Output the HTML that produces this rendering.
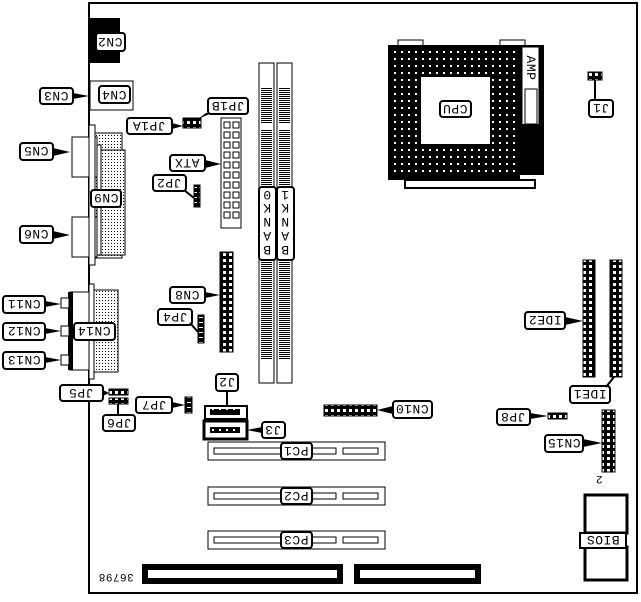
<!DOCTYPE html>
<html><head><meta charset="utf-8"><style>
html,body{margin:0;padding:0;background:#fff;}
svg text{font-family:"Liberation Mono",monospace;font-size:13px;letter-spacing:0.5px;fill:#000;}
</style></head><body>
<svg width="641" height="597" viewBox="0 0 641 597" xmlns="http://www.w3.org/2000/svg">
<defs>
<pattern id="dots" width="3" height="3" patternUnits="userSpaceOnUse"><rect width="3" height="3" fill="#fff"/><rect width="1" height="1" fill="#000"/></pattern>
<pattern id="hdr" width="6" height="6" patternUnits="userSpaceOnUse"><rect width="6" height="6" fill="#000"/><rect x="1" y="1" width="3" height="3" fill="#fff"/></pattern>
<pattern id="hdrb" width="6" height="5" patternUnits="userSpaceOnUse"><rect width="6" height="5" fill="#000"/><rect x="1" y="2" width="4" height="1" fill="#fff"/></pattern>
<pattern id="pins" width="7" height="7" patternUnits="userSpaceOnUse"><rect width="7" height="7" fill="#000"/><rect x="2" y="2" width="2" height="2" fill="#fff"/></pattern>
<pattern id="ram" width="4" height="2" patternUnits="userSpaceOnUse"><rect width="4" height="2" fill="#000"/><rect y="1" width="4" height="1" fill="#fff"/></pattern>
</defs>
<path d="M89 3 H637 V593 H89 Z" fill="none" stroke="#000" stroke-width="2"/>
<!-- CN2 -->
<rect x="90" y="18" width="30" height="45" fill="#000"/>
<rect x="96" y="33" width="29" height="18" rx="3" fill="#fff" stroke="#000" stroke-width="2"/>
<text transform="rotate(180 110 42)" x="110" y="46" text-anchor="middle">CN2</text>
<!-- CN4/CN3 -->
<rect x="90" y="81" width="43" height="29" fill="#fff" stroke="#000"/>
<rect x="99" y="86" width="31" height="17" rx="3" fill="#fff" stroke="#000" stroke-width="2"/>
<text transform="rotate(180 114 95)" x="114" y="99" text-anchor="middle">CN4</text>
<rect x="40" y="88" width="33" height="16" rx="3" fill="#fff" stroke="#000" stroke-width="2"/>
<text transform="rotate(180 56 96)" x="56" y="100" text-anchor="middle">CN3</text>
<path d="M73 93 L89 96 L73 99Z" fill="#000"/>
<!-- parallel/serial connectors -->
<rect x="92" y="133" width="30" height="125" fill="url(#dots)" stroke="#000"/>
<rect x="97" y="150" width="28" height="105" fill="url(#dots)" stroke="#000"/>
<rect x="72" y="137" width="25" height="40" fill="#fff" stroke="#000"/>
<rect x="72" y="217" width="25" height="40" fill="#fff" stroke="#000"/>
<rect x="89" y="125" width="6" height="140" fill="#fff" stroke="#000"/>
<rect x="97" y="145" width="4" height="110" fill="#fff" stroke="#000"/>
<rect x="91" y="190" width="30" height="17" rx="3" fill="#fff" stroke="#000" stroke-width="2"/>
<text transform="rotate(180 106 198)" x="106" y="202" text-anchor="middle">CN9</text>
<rect x="20" y="143" width="33" height="17" rx="3" fill="#fff" stroke="#000" stroke-width="2"/>
<text transform="rotate(180 36 151)" x="36" y="155" text-anchor="middle">CN5</text>
<path d="M53 148 L70 152 L53 156Z" fill="#000"/>
<rect x="20" y="226" width="33" height="17" rx="3" fill="#fff" stroke="#000" stroke-width="2"/>
<text transform="rotate(180 36 234)" x="36" y="238" text-anchor="middle">CN6</text>
<path d="M53 231 L70 235 L53 239Z" fill="#000"/>
<!-- audio/usb block -->
<rect x="92" y="290" width="26" height="82" fill="url(#dots)" stroke="#000"/>
<rect x="70" y="292" width="20" height="78" fill="#fff" stroke="#000"/>
<rect x="68" y="292" width="5" height="78" fill="#000"/>
<rect x="89" y="284" width="5" height="95" fill="#fff" stroke="#000"/>
<rect x="61" y="298" width="8" height="10" fill="#fff" stroke="#000"/>
<rect x="61" y="326" width="8" height="10" fill="#fff" stroke="#000"/>
<rect x="61" y="355" width="8" height="10" fill="#fff" stroke="#000"/>
<rect x="3" y="296" width="42" height="17" rx="3" fill="#fff" stroke="#000" stroke-width="2"/>
<text transform="rotate(180 24 304)" x="24" y="308" text-anchor="middle">CN11</text>
<path d="M45 301 L61 304 L45 307Z" fill="#000"/>
<rect x="3" y="323" width="42" height="17" rx="3" fill="#fff" stroke="#000" stroke-width="2"/>
<text transform="rotate(180 24 331)" x="24" y="335" text-anchor="middle">CN12</text>
<path d="M45 328 L61 331 L45 334Z" fill="#000"/>
<rect x="3" y="352" width="42" height="17" rx="3" fill="#fff" stroke="#000" stroke-width="2"/>
<text transform="rotate(180 24 360)" x="24" y="364" text-anchor="middle">CN13</text>
<path d="M45 357 L61 360 L45 363Z" fill="#000"/>
<rect x="74" y="323" width="41" height="17" rx="3" fill="#fff" stroke="#000" stroke-width="2"/>
<text transform="rotate(180 94 331)" x="94" y="335" text-anchor="middle">CN14</text>
<!-- JP1 -->
<rect x="183" y="118" width="18" height="10" fill="url(#hdr)" stroke="#000"/>
<rect x="127" y="118" width="45" height="16" rx="3" fill="#fff" stroke="#000" stroke-width="2"/>
<text transform="rotate(180 149 126)" x="149" y="130" text-anchor="middle">JP1A</text>
<path d="M172 123 L183 126 L172 129Z" fill="#000"/>
<rect x="208" y="98" width="40" height="16" rx="3" fill="#fff" stroke="#000" stroke-width="2"/>
<text transform="rotate(180 228 106)" x="228" y="110" text-anchor="middle">JP1B</text>
<path d="M212 113 L198 119 L206 113Z" fill="#000"/>
<!-- ATX -->
<rect x="221" y="118" width="20" height="110" fill="#fff" stroke="#000"/>
<path fill="none" stroke="#000" d="M224 122h6v6h-6zM233 122h6v6h-6zM224 132h6v6h-6zM233 132h6v6h-6zM224 142h6v6h-6zM233 142h6v6h-6zM224 152h6v6h-6zM233 152h6v6h-6zM224 162h6v6h-6zM233 162h6v6h-6zM224 172h6v6h-6zM233 172h6v6h-6zM224 182h6v6h-6zM233 182h6v6h-6zM224 192h6v6h-6zM233 192h6v6h-6zM224 202h6v6h-6zM233 202h6v6h-6zM224 212h6v6h-6zM233 212h6v6h-6z"/>
<rect x="170" y="155" width="35" height="16" rx="3" fill="#fff" stroke="#000" stroke-width="2"/>
<text transform="rotate(180 187 163)" x="187" y="167" text-anchor="middle">ATX</text>
<path d="M205 160 L221 164 L205 168Z" fill="#000"/>
<rect x="153" y="175" width="33" height="16" rx="3" fill="#fff" stroke="#000" stroke-width="2"/>
<text transform="rotate(180 169 183)" x="169" y="187" text-anchor="middle">JP2</text>
<rect x="194" y="185" width="6" height="22" fill="url(#hdrb)" stroke="#000"/>
<path d="M184 190 L194 198" stroke="#000" stroke-width="2"/>
<!-- DIMMs -->
<g stroke="#000" fill="#fff">
<rect x="259" y="63" width="15" height="320"/>
<rect x="277" y="63" width="15" height="320"/>
</g>
<rect x="261" y="88" width="11" height="36" fill="url(#ram)"/>
<rect x="279" y="88" width="11" height="36" fill="url(#ram)"/>
<rect x="261" y="130" width="11" height="56" fill="url(#ram)"/>
<rect x="279" y="130" width="11" height="56" fill="url(#ram)"/>
<rect x="261" y="262" width="11" height="98" fill="url(#ram)"/>
<rect x="279" y="262" width="11" height="98" fill="url(#ram)"/>
<rect x="259" y="187" width="17" height="73" rx="3" fill="#fff" stroke="#000" stroke-width="2"/>
<rect x="277" y="187" width="17" height="73" rx="3" fill="#fff" stroke="#000" stroke-width="2"/>
<g>
<text transform="rotate(180 267 195)" x="267" y="199" text-anchor="middle">0</text>
<text transform="rotate(180 267 208)" x="267" y="212" text-anchor="middle">K</text>
<text transform="rotate(180 267 222)" x="267" y="226" text-anchor="middle">N</text>
<text transform="rotate(180 267 236)" x="267" y="240" text-anchor="middle">A</text>
<text transform="rotate(180 267 250)" x="267" y="254" text-anchor="middle">B</text>
<text transform="rotate(180 285 195)" x="285" y="199" text-anchor="middle">1</text>
<text transform="rotate(180 285 208)" x="285" y="212" text-anchor="middle">K</text>
<text transform="rotate(180 285 222)" x="285" y="226" text-anchor="middle">N</text>
<text transform="rotate(180 285 236)" x="285" y="240" text-anchor="middle">A</text>
<text transform="rotate(180 285 250)" x="285" y="254" text-anchor="middle">B</text>
</g>
<!-- CN8 -->
<rect x="220" y="252" width="13" height="100" fill="url(#hdr)" stroke="#000"/>
<rect x="170" y="287" width="35" height="16" rx="3" fill="#fff" stroke="#000" stroke-width="2"/>
<text transform="rotate(180 187 295)" x="187" y="299" text-anchor="middle">CN8</text>
<path d="M205 292 L220 295 L205 298Z" fill="#000"/>
<rect x="158" y="309" width="34" height="16" rx="3" fill="#fff" stroke="#000" stroke-width="2"/>
<text transform="rotate(180 175 317)" x="175" y="321" text-anchor="middle">JP4</text>
<rect x="198" y="315" width="6" height="28" fill="url(#hdrb)" stroke="#000"/>
<path d="M190 323 L198 332" stroke="#000" stroke-width="2"/>
<!-- JP5 JP6 JP7 -->
<rect x="109" y="389" width="19" height="6" fill="url(#hdr)" stroke="#000"/>
<rect x="109" y="398" width="19" height="6" fill="url(#hdr)" stroke="#000"/>
<rect x="60" y="385" width="43" height="16" rx="3" fill="#fff" stroke="#000" stroke-width="2"/>
<text transform="rotate(180 81 393)" x="81" y="397" text-anchor="middle">JP5</text>
<path d="M103 390 L109 393 L103 396Z" fill="#000"/>
<rect x="103" y="415" width="32" height="16" rx="3" fill="#fff" stroke="#000" stroke-width="2"/>
<text transform="rotate(180 119 423)" x="119" y="427" text-anchor="middle">JP6</text>
<path d="M118 404 V415" stroke="#000" stroke-width="2"/>
<rect x="185" y="397" width="7" height="16" fill="url(#hdrb)" stroke="#000"/>
<rect x="136" y="397" width="36" height="16" rx="3" fill="#fff" stroke="#000" stroke-width="2"/>
<text transform="rotate(180 154 405)" x="154" y="409" text-anchor="middle">JP7</text>
<path d="M172 402 L185 405 L172 408Z" fill="#000"/>
<!-- J2 J3 -->
<rect x="205" y="406" width="42" height="13" fill="#fff" stroke="#000" stroke-width="2"/>
<rect x="210" y="409" width="30" height="6" fill="url(#pins)"/>
<rect x="204" y="421" width="43" height="18" fill="#fff" stroke="#000" stroke-width="3"/>
<rect x="210" y="427" width="30" height="6" fill="url(#pins)"/>
<rect x="216" y="374" width="22" height="17" rx="3" fill="#fff" stroke="#000" stroke-width="2"/>
<text transform="rotate(180 227 382)" x="227" y="386" text-anchor="middle">J2</text>
<path d="M227 391 V406" stroke="#000" stroke-width="2"/>
<rect x="262" y="422" width="23" height="16" rx="3" fill="#fff" stroke="#000" stroke-width="2"/>
<text transform="rotate(180 273 430)" x="273" y="434" text-anchor="middle">J3</text>
<path d="M262 427 L247 430 L262 433Z" fill="#000"/>
<!-- CN10 -->
<rect x="324" y="405" width="53" height="11" fill="url(#hdr)" stroke="#000"/>
<rect x="393" y="401" width="39" height="17" rx="3" fill="#fff" stroke="#000" stroke-width="2"/>
<text transform="rotate(180 412 409)" x="412" y="413" text-anchor="middle">CN10</text>
<path d="M393 406 L377 410 L393 414Z" fill="#000"/>
<!-- PCI -->
<g fill="#fff" stroke="#000">
<rect x="208" y="442" width="177" height="18"/><rect x="214" y="448" width="98" height="6"/><rect x="312" y="448" width="24" height="6"/><rect x="343" y="448" width="35" height="6"/>
<rect x="208" y="487" width="177" height="18"/><rect x="214" y="493" width="98" height="6"/><rect x="312" y="493" width="24" height="6"/><rect x="343" y="493" width="35" height="6"/>
<rect x="208" y="531" width="177" height="18"/><rect x="214" y="537" width="98" height="6"/><rect x="312" y="537" width="24" height="6"/><rect x="343" y="537" width="35" height="6"/>
</g>
<rect x="281" y="443" width="31" height="16" rx="3" fill="#fff" stroke="#000" stroke-width="2"/>
<text transform="rotate(180 296 451)" x="296" y="455" text-anchor="middle">PC1</text>
<rect x="281" y="488" width="31" height="16" rx="3" fill="#fff" stroke="#000" stroke-width="2"/>
<text transform="rotate(180 296 496)" x="296" y="500" text-anchor="middle">PC2</text>
<rect x="281" y="532" width="31" height="16" rx="3" fill="#fff" stroke="#000" stroke-width="2"/>
<text transform="rotate(180 296 540)" x="296" y="544" text-anchor="middle">PC3</text>
<!-- ISA -->
<rect x="145" y="567" width="195" height="14" fill="#fff" stroke="#000" stroke-width="6"/>
<rect x="357" y="567" width="121" height="14" fill="#fff" stroke="#000" stroke-width="6"/>
<text transform="rotate(180 116 578)" x="116" y="582" text-anchor="middle" style="font-size:11px">36798</text>
<!-- CPU -->
<rect x="398" y="40" width="25" height="6" fill="#fff" stroke="#000"/>
<rect x="500" y="40" width="25" height="6" fill="#fff" stroke="#000"/>
<rect x="388" y="45" width="132" height="135" fill="#000"/>
<rect x="392" y="50" width="124" height="126" fill="url(#pins)"/>
<rect x="421" y="77" width="69" height="67" fill="#fff"/>
<rect x="519" y="45" width="25" height="130" fill="#000"/>
<rect x="522" y="47" width="17" height="125" fill="#fff" stroke="#000"/>
<rect x="525" y="89" width="12" height="35" fill="#fff" stroke="#000"/>
<rect x="522" y="124" width="17" height="48" fill="#000"/>
<text transform="rotate(90 531 68)" x="531" y="72" text-anchor="middle">AMP</text>
<rect x="405" y="180" width="130" height="8" fill="#fff" stroke="#000" stroke-width="2"/>
<rect x="440" y="101" width="31" height="16" rx="3" fill="#fff" stroke="#000" stroke-width="2"/>
<text transform="rotate(180 455 109)" x="455" y="113" text-anchor="middle">CPU</text>
<!-- J1 -->
<rect x="588" y="72" width="14" height="8" fill="url(#hdr)" stroke="#000"/>
<rect x="589" y="100" width="24" height="17" rx="3" fill="#fff" stroke="#000" stroke-width="2"/>
<text transform="rotate(180 601 108)" x="601" y="112" text-anchor="middle">J1</text>
<path d="M595 80 V100" stroke="#000" stroke-width="2"/>
<!-- IDE -->
<rect x="583" y="260" width="12" height="117" fill="url(#hdr)" stroke="#000"/>
<rect x="610" y="260" width="12" height="117" fill="url(#hdr)" stroke="#000"/>
<rect x="525" y="312" width="40" height="17" rx="3" fill="#fff" stroke="#000" stroke-width="2"/>
<text transform="rotate(180 545 320)" x="545" y="324" text-anchor="middle">IDE2</text>
<path d="M565 317 L583 321 L565 325Z" fill="#000"/>
<rect x="570" y="386" width="40" height="17" rx="3" fill="#fff" stroke="#000" stroke-width="2"/>
<text transform="rotate(180 590 394)" x="590" y="398" text-anchor="middle">IDE1</text>
<path d="M606 387 L614 377" stroke="#000" stroke-width="2"/>
<!-- JP8 -->
<rect x="548" y="413" width="19" height="6" fill="url(#hdr)" stroke="#000"/>
<rect x="497" y="409" width="33" height="16" rx="3" fill="#fff" stroke="#000" stroke-width="2"/>
<text transform="rotate(180 513 417)" x="513" y="421" text-anchor="middle">JP8</text>
<path d="M530 413 L548 416 L530 419Z" fill="#000"/>
<!-- CN15 -->
<rect x="602" y="410" width="13" height="62" fill="url(#hdr)" stroke="#000"/>
<rect x="545" y="435" width="38" height="17" rx="3" fill="#fff" stroke="#000" stroke-width="2"/>
<text transform="rotate(180 564 443)" x="564" y="447" text-anchor="middle">CN15</text>
<path d="M583 439 L602 443 L583 447Z" fill="#000"/>
<text transform="rotate(180 599 480)" x="599" y="484" text-anchor="middle" style="font-size:11px">2</text>
<!-- BIOS -->
<rect x="585" y="495" width="42" height="38" fill="#fff" stroke="#000" stroke-width="3"/>
<rect x="585" y="547" width="42" height="33" fill="#fff" stroke="#000" stroke-width="3"/>
<rect x="580" y="533" width="46" height="15" fill="#fff" stroke="#000" stroke-width="2"/>
<text transform="rotate(180 603 540)" x="603" y="544" text-anchor="middle">BIOS</text>
</svg>
</body></html>
